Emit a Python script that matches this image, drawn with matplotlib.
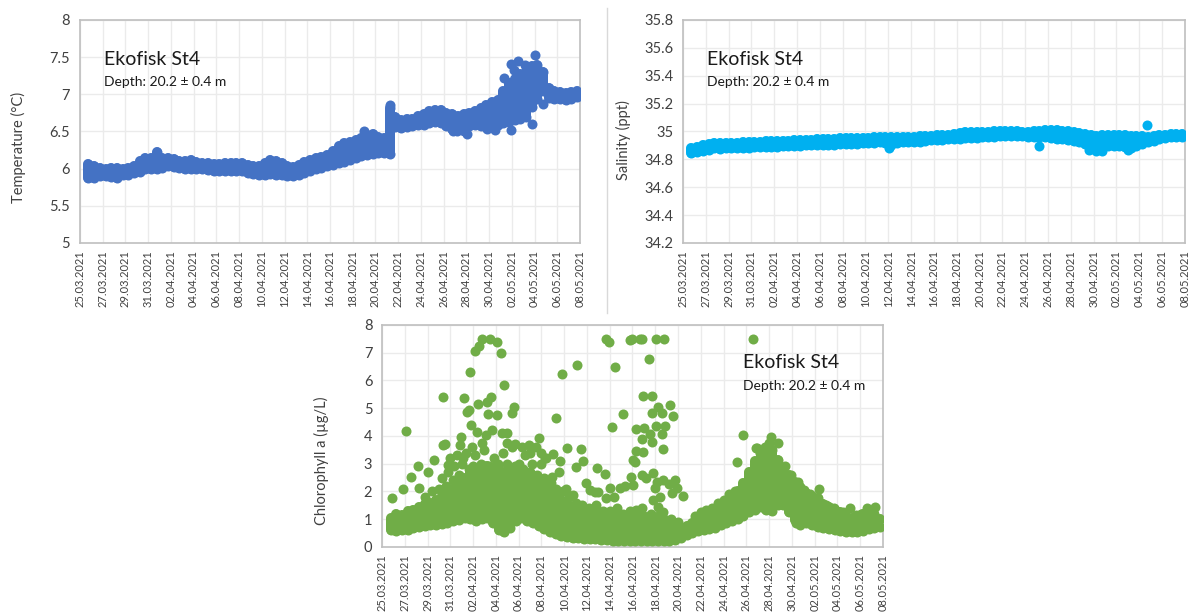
import datetime as dt
import numpy as np
import matplotlib
matplotlib.use("Agg")
import matplotlib.pyplot as plt
import matplotlib.dates as mdates
from matplotlib.lines import Line2D
from matplotlib.ticker import FixedLocator, FuncFormatter

plt.rcParams['font.family'] = ['Lato', 'DejaVu Sans']

# ---------------------------------------------------------------------------
# data (12 h steps from 25.03 18:00, day offsets from 25.03)
# each series is given as lower / upper edge of the dense band of points
# ---------------------------------------------------------------------------
START = dt.datetime(2021, 3, 25)
END = dt.datetime(2021, 5, 8)
FIRST_DAY = 0.75
STEP = 0.5

temp_lo = [5.87, 5.88, 5.90, 5.90, 5.89, 5.88, 5.91, 5.92, 5.94, 5.96,
           5.99, 6.00, 6.00, 6.01, 6.03, 6.02, 6.01, 6.00, 6.00, 5.99,
           5.99, 5.98, 5.97, 5.97, 5.97, 5.97, 5.97, 5.97, 5.94, 5.93,
           5.91, 5.92, 5.93, 5.92, 5.91, 5.90, 5.90, 5.92, 5.94, 5.97,
           5.99, 6.01, 6.03, 6.05, 6.07, 6.09, 6.12, 6.15, 6.17, 6.19,
           6.20, 6.21, 6.21, 6.20, 6.56, 6.55, 6.56, 6.57, 6.59, 6.59,
           6.61, 6.63, 6.62, 6.57, 6.54, 6.55, 6.51, 6.57, 6.59, 6.57,
           6.56, 6.56, 6.59, 6.61, 6.63, 6.65, 6.67, 6.69, 6.83, 6.94,
           7.04, 6.95, 6.94, 6.94, 6.93, 6.94, 6.96]
temp_hi = [6.06, 6.04, 6.01, 5.99, 6.01, 6.01, 6.00, 6.01, 6.04, 6.10,
           6.14, 6.15, 6.22, 6.15, 6.14, 6.13, 6.10, 6.10, 6.12, 6.09,
           6.07, 6.07, 6.06, 6.06, 6.07, 6.07, 6.07, 6.07, 6.05, 6.04,
           6.03, 6.08, 6.12, 6.10, 6.07, 6.04, 6.02, 6.05, 6.09, 6.12,
           6.14, 6.16, 6.19, 6.24, 6.30, 6.34, 6.36, 6.39, 6.41, 6.45,
           6.46, 6.43, 6.41, 6.82, 6.69, 6.65, 6.67, 6.67, 6.71, 6.73,
           6.77, 6.79, 6.79, 6.75, 6.73, 6.71, 6.73, 6.75, 6.77, 6.81,
           6.85, 6.89, 6.93, 7.05, 7.15, 7.20, 7.28, 7.30, 7.38, 7.40,
           7.30, 7.09, 7.05, 7.03, 7.02, 7.03, 7.04]
temp_extra_day = [24.95, 27.3, 32.8, 33.2, 34.1, 35.8, 36.5, 37.3, 37.9, 37.9,
                  38.2, 38.5, 39.2, 39.8, 40.0, 40.7]
temp_extra_val = [6.50, 6.86, 6.50, 6.50, 6.47, 6.53, 6.52, 7.22, 7.41, 6.52,
                  7.33, 7.45, 7.39, 6.60, 7.53, 6.87]

sal_lo = [34.845, 34.850, 34.860, 34.870, 34.878, 34.875, 34.880, 34.878, 34.882, 34.885,
          34.884, 34.887, 34.886, 34.889, 34.888, 34.891, 34.893, 34.895, 34.897, 34.896,
          34.900, 34.901, 34.903, 34.902, 34.905, 34.906, 34.907, 34.909, 34.910, 34.912,
          34.915, 34.917, 34.919, 34.921, 34.915, 34.905, 34.920, 34.923, 34.924, 34.925,
          34.928, 34.932, 34.936, 34.939, 34.942, 34.944, 34.947, 34.949, 34.950, 34.953,
          34.955, 34.957, 34.960, 34.963, 34.966, 34.968, 34.969, 34.968, 34.966, 34.964,
          34.962, 34.959, 34.957, 34.953, 34.949, 34.944, 34.938, 34.932, 34.925, 34.910,
          34.895, 34.885, 34.888, 34.893, 34.897, 34.893, 34.888, 34.885, 34.895, 34.910,
          34.923, 34.935, 34.948, 34.956, 34.960, 34.963, 34.964]
sal_hi = [34.885, 34.890, 34.900, 34.910, 34.915, 34.918, 34.915, 34.920, 34.918, 34.922,
          34.925, 34.924, 34.928, 34.930, 34.929, 34.933, 34.935, 34.934, 34.936, 34.937,
          34.938, 34.940, 34.943, 34.945, 34.947, 34.949, 34.951, 34.953, 34.952, 34.954,
          34.955, 34.956, 34.957, 34.958, 34.958, 34.959, 34.960, 34.962, 34.962, 34.963,
          34.966, 34.968, 34.971, 34.973, 34.976, 34.978, 34.985, 34.991, 34.994, 34.994,
          34.994, 34.996, 34.998, 35.000, 35.002, 35.004, 35.006, 35.002, 34.998, 34.995,
          35.000, 35.006, 35.010, 35.010, 35.008, 35.006, 35.000, 34.994, 34.988, 34.982,
          34.975, 34.970, 34.972, 34.975, 34.977, 34.975, 34.972, 34.970, 34.968, 34.965,
          34.964, 34.968, 34.973, 34.977, 34.979, 34.981, 34.982]
sal_extra_day = [18.1, 31.2, 35.6, 36.2, 36.7, 39.0, 40.7]
sal_extra_val = [34.885, 34.895, 34.870, 34.860, 34.862, 34.865, 35.045]

chl_lo = [0.60, 0.58, 0.60, 0.62, 0.68, 0.72, 0.75, 0.78, 0.80, 0.82,
          0.88, 0.92, 0.98, 1.05, 1.00, 0.95, 1.00, 1.05, 0.85, 0.60,
          0.55, 0.70, 0.95, 1.05, 0.95, 0.85, 0.75, 0.65, 0.55, 0.45,
          0.40, 0.36, 0.34, 0.32, 0.30, 0.28, 0.28, 0.26, 0.24, 0.21,
          0.21, 0.20, 0.20, 0.20, 0.20, 0.20, 0.20, 0.20, 0.20, 0.22,
          0.25, 0.32, 0.42, 0.50, 0.56, 0.60, 0.66, 0.70, 0.78, 0.85,
          0.92, 1.02, 1.12, 1.25, 1.35, 1.45, 1.35, 1.30, 1.50, 1.50,
          1.25, 0.98, 0.88, 0.86, 0.78, 0.72, 0.68, 0.66, 0.62, 0.58,
          0.53, 0.53, 0.53, 0.58, 0.66, 0.68, 0.72]
chl_hi = [1.05, 1.20, 1.15, 1.30, 1.35, 1.45, 1.55, 1.60, 1.70, 1.85,
          1.95, 2.10, 2.30, 2.50, 2.70, 2.80, 2.85, 2.90, 2.85, 2.75,
          2.65, 2.75, 2.85, 2.75, 2.65, 2.55, 2.45, 2.25, 2.05, 1.85,
          1.70, 1.55, 1.45, 1.40, 1.30, 1.25, 1.25, 1.20, 1.15, 1.10,
          1.10, 1.05, 1.05, 1.05, 1.00, 1.00, 1.00, 0.95, 0.95, 0.85,
          0.72, 0.65, 0.75, 0.85, 0.98, 1.10, 1.20, 1.30, 1.45, 1.60,
          1.75, 2.00, 2.30, 2.70, 3.10, 3.35, 3.50, 3.50, 3.15, 2.85,
          2.60, 2.35, 2.15, 1.95, 1.85, 1.75, 1.55, 1.45, 1.35, 1.25,
          1.10, 1.05, 1.10, 1.20, 1.30, 1.20, 1.00]

# single points outside the dense band
chl_extra = [
    (0.85, 1.75), (1.81, 2.08), (2.11, 4.19), (2.55, 2.51), (3.19, 2.90), (3.25, 2.12),
    (4.07, 2.71), (4.60, 3.13), (5.24, 2.47), (5.39, 5.42), (5.39, 3.66), (5.53, 3.70),
    (5.77, 2.96), (5.82, 2.71), (6.85, 3.68), (6.91, 3.98), (7.14, 3.19), (7.23, 5.36),
    (7.49, 4.88), (7.73, 6.31), (7.67, 4.94), (7.79, 4.40), (8.31, 4.16), (8.40, 5.14),
    (8.17, 7.07), (8.55, 7.25), (8.81, 7.48), (8.75, 3.73), (9.13, 4.04), (9.25, 5.24),
    (9.34, 4.79), (9.48, 7.48), (9.54, 5.42), (9.63, 4.22), (10.07, 4.76), (10.13, 7.40),
    (10.42, 6.98), (10.71, 5.84), (10.50, 4.10), (10.94, 4.10), (10.94, 3.73), (11.44, 4.82),
    (11.59, 5.06), (11.67, 3.70), (12.93, 3.66), (12.99, 3.38), (13.81, 3.92), (13.93, 3.38),
    (14.40, 3.19),
    (6.0, 3.2), (6.3, 2.9), (6.6, 3.3), (7.0, 3.0), (7.4, 3.4), (7.9, 3.6), (8.2, 3.3),
    (8.7, 3.0), (9.0, 3.5), (9.4, 2.9), (9.8, 3.2), (10.2, 3.0), (10.6, 3.4), (11.0, 3.0),
    (11.4, 3.6), (12.0, 3.0), (12.3, 3.6), (12.6, 3.3), (13.2, 3.0), (13.5, 3.6), (14.0, 3.0),
    (3.8, 1.8), (4.4, 2.0), (5.0, 2.1), (5.6, 2.2), (6.2, 2.4), (6.8, 2.6), (7.6, 2.8),
    (8.0, 2.9), (8.5, 2.8), (9.0, 2.9), (9.6, 2.8), (10.3, 2.8), (10.9, 2.7), (11.7, 2.9),
    (12.4, 2.8), (13.0, 2.7), (13.6, 2.6), (14.2, 2.5), (14.8, 2.3), (15.3, 2.1), (15.9, 2.0),
    (16.4, 1.8), (17.0, 1.6), (17.6, 1.5), (18.2, 1.4), (18.8, 1.5), (19.4, 1.3), (20.0, 1.3),
    (20.6, 1.4), (21.2, 1.2), (21.8, 1.3), (22.4, 1.2), (23.0, 1.1), (23.6, 1.2), (24.2, 1.1),
    (24.8, 1.0), (25.4, 1.0),
    (15.77, 6.22), (17.09, 6.56), (15.28, 4.64), (16.21, 3.58), (17.47, 3.52), (17.62, 3.08),
    (17.00, 2.87), (14.30, 3.19), (15.04, 3.34), (15.63, 3.10), (15.54, 2.71), (14.90, 2.53),
    (18.85, 2.83), (19.58, 2.62), (19.67, 7.49), (19.93, 7.37), (20.46, 6.50), (20.16, 4.34),
    (21.19, 4.78), (21.77, 7.46), (21.98, 7.49), (22.65, 7.49), (22.80, 7.49), (23.44, 6.76),
    (22.94, 5.44), (23.73, 5.44), (24.06, 7.49), (24.76, 7.49), (24.26, 5.06), (24.55, 4.82),
    (25.29, 5.10), (25.58, 4.72), (23.68, 4.82), (22.27, 4.24), (23.00, 4.28), (24.03, 4.36),
    (24.85, 4.36), (23.53, 4.07), (24.55, 4.06), (22.86, 3.89), (23.73, 3.77), (24.70, 3.53),
    (22.30, 3.46), (22.89, 3.44), (22.06, 3.13), (22.21, 3.05), (23.82, 2.68), (22.80, 2.59),
    (23.18, 2.47), (24.12, 2.35), (24.70, 2.41), (25.73, 2.41), (25.20, 2.26), (21.83, 2.53),
    (21.33, 2.21), (20.02, 2.14), (18.99, 1.99), (18.26, 2.05), (17.88, 2.29), (16.13, 2.08),
    (16.80, 1.87), (18.70, 1.99), (19.67, 1.78), (20.40, 1.81), (20.90, 2.11), (22.06, 2.23),
    (23.97, 2.11), (24.41, 1.81), (25.44, 1.93), (25.88, 2.11), (26.46, 1.84), (24.26, 1.45),
    (24.70, 1.27), (26.02, 0.91), (23.82, 1.69), (22.27, 1.35), (22.80, 1.39),
    (31.2, 3.07), (31.7, 4.04), (32.6, 7.49), (32.84, 3.56), (32.9, 3.55), (34.2, 3.98),
    (34.8, 3.73), (33.2, 3.4), (33.6, 3.6), (34.0, 3.75), (38.34, 2.1), (40.5, 1.27),
    (41.1, 1.42), (42.6, 1.42), (43.3, 1.45), (27.5, 1.1), (28.0, 1.25), (28.5, 1.35),
    (29.0, 1.4), (29.5, 1.6), (30.0, 1.7), (30.5, 1.9), (31.0, 2.0), (35.4, 2.9),
    (35.9, 2.6), (36.5, 2.35), (37.1, 2.05), (37.6, 1.9), (36.4, 0.85), (36.7, 0.8),
    (39.0, 1.5), (39.7, 1.4), (40.0, 1.3), (41.6, 1.15), (42.1, 1.2), (43.0, 1.3),
]

TITLE = "Ekofisk St4"
DEPTH = "Depth: 20.2 \u00b1 0.4 m"

BLUE = "#4472C4"
CYAN = "#00B0F0"
GREEN = "#70AD47"
GRID = "#EBEBEB"
FRAME = "#BFBFBF"
TXT = "#404040"

DOT = 52          # marker area (pt^2)
DOT_W = 7.2       # same dot as a line width


def to_num(days):
    return mdates.date2num(START) + np.asarray(days, dtype=float)


def band(ax, lo, hi, color, extra_day=(), extra_val=()):
    t = to_num(FIRST_DAY + STEP * np.arange(len(lo)))
    ax.vlines(t, lo, hi, colors=color, linewidth=DOT_W, capstyle="round", zorder=3)
    ax.scatter(t, lo, s=DOT, color=color, lw=0, zorder=3)
    ax.scatter(t, hi, s=DOT, color=color, lw=0, zorder=3)
    if len(extra_day):
        ax.scatter(to_num(extra_day), extra_val, s=DOT, color=color, lw=0, zorder=3)


def style(ax, ylim, ystep, ylabel, label_xy):
    ax.set_xlim(mdates.date2num(START), mdates.date2num(END))
    ax.set_ylim(*ylim)
    ax.xaxis.set_major_locator(FixedLocator(to_num(np.arange(0, 45, 2))))
    ax.xaxis.set_major_formatter(mdates.DateFormatter("%d.%m.%Y"))
    ax.yaxis.set_major_locator(FixedLocator(np.arange(ylim[0], ylim[1] + ystep / 2, ystep)))
    ax.yaxis.set_major_formatter(FuncFormatter(lambda v, p: f"{round(v, 2):g}"))
    ax.grid(True, color=GRID, lw=1, zorder=0)
    ax.set_axisbelow(True)
    for s in ax.spines.values():
        s.set_color(FRAME)
        s.set_linewidth(1.2)
    ax.tick_params(axis="both", length=0, colors=TXT)
    ax.tick_params(axis="x", labelsize=8, labelrotation=90, pad=5)
    ax.tick_params(axis="y", labelsize=10.5, pad=7)
    ax.set_ylabel(ylabel, fontsize=10.5, color=TXT)
    ax.yaxis.set_label_coords(*label_xy)


def labels(ax, x, y1, y2):
    ax.text(x, y1, TITLE, transform=ax.transAxes, fontsize=14, color="#1a1a1a", va="baseline")
    ax.text(x, y2, DEPTH, transform=ax.transAxes, fontsize=10, color="#1a1a1a", va="baseline")


fig = plt.figure(figsize=(11.9, 6.13), dpi=100)

# temperature
ax1 = fig.add_axes([0.0672, 0.6036, 0.4202, 0.3638])
band(ax1, temp_lo, temp_hi, BLUE, temp_extra_day, temp_extra_val)
style(ax1, (5, 8), 0.5, "Temperature (\u00b0C)", (-0.108, 0.43))
labels(ax1, 0.048, 0.798, 0.705)

# salinity
ax2 = fig.add_axes([0.5739, 0.6036, 0.4218, 0.3638])
band(ax2, sal_lo, sal_hi, CYAN, sal_extra_day, sal_extra_val)
style(ax2, (34.2, 35.8), 0.2, "Salinity (ppt)", (-0.104, 0.46))
labels(ax2, 0.048, 0.798, 0.705)

# chlorophyll
ax3 = fig.add_axes([0.3210, 0.1077, 0.4210, 0.3622])
band(ax3, chl_lo, chl_hi, GREEN,
     [d for d, v in chl_extra], [v for d, v in chl_extra])
style(ax3, (0, 8), 1, "Chlorophyll a (\u00b5g/L)", (-0.106, 0.39))
labels(ax3, 0.721, 0.805, 0.707)

# thin separator between the two top panels
fig.add_artist(Line2D([607 / 1190, 607 / 1190], [1 - 8 / 613, 1 - 313 / 613],
                      transform=fig.transFigure, color="#D9D9D9", lw=1))

fig.savefig("out.png", dpi=100, facecolor="white")
